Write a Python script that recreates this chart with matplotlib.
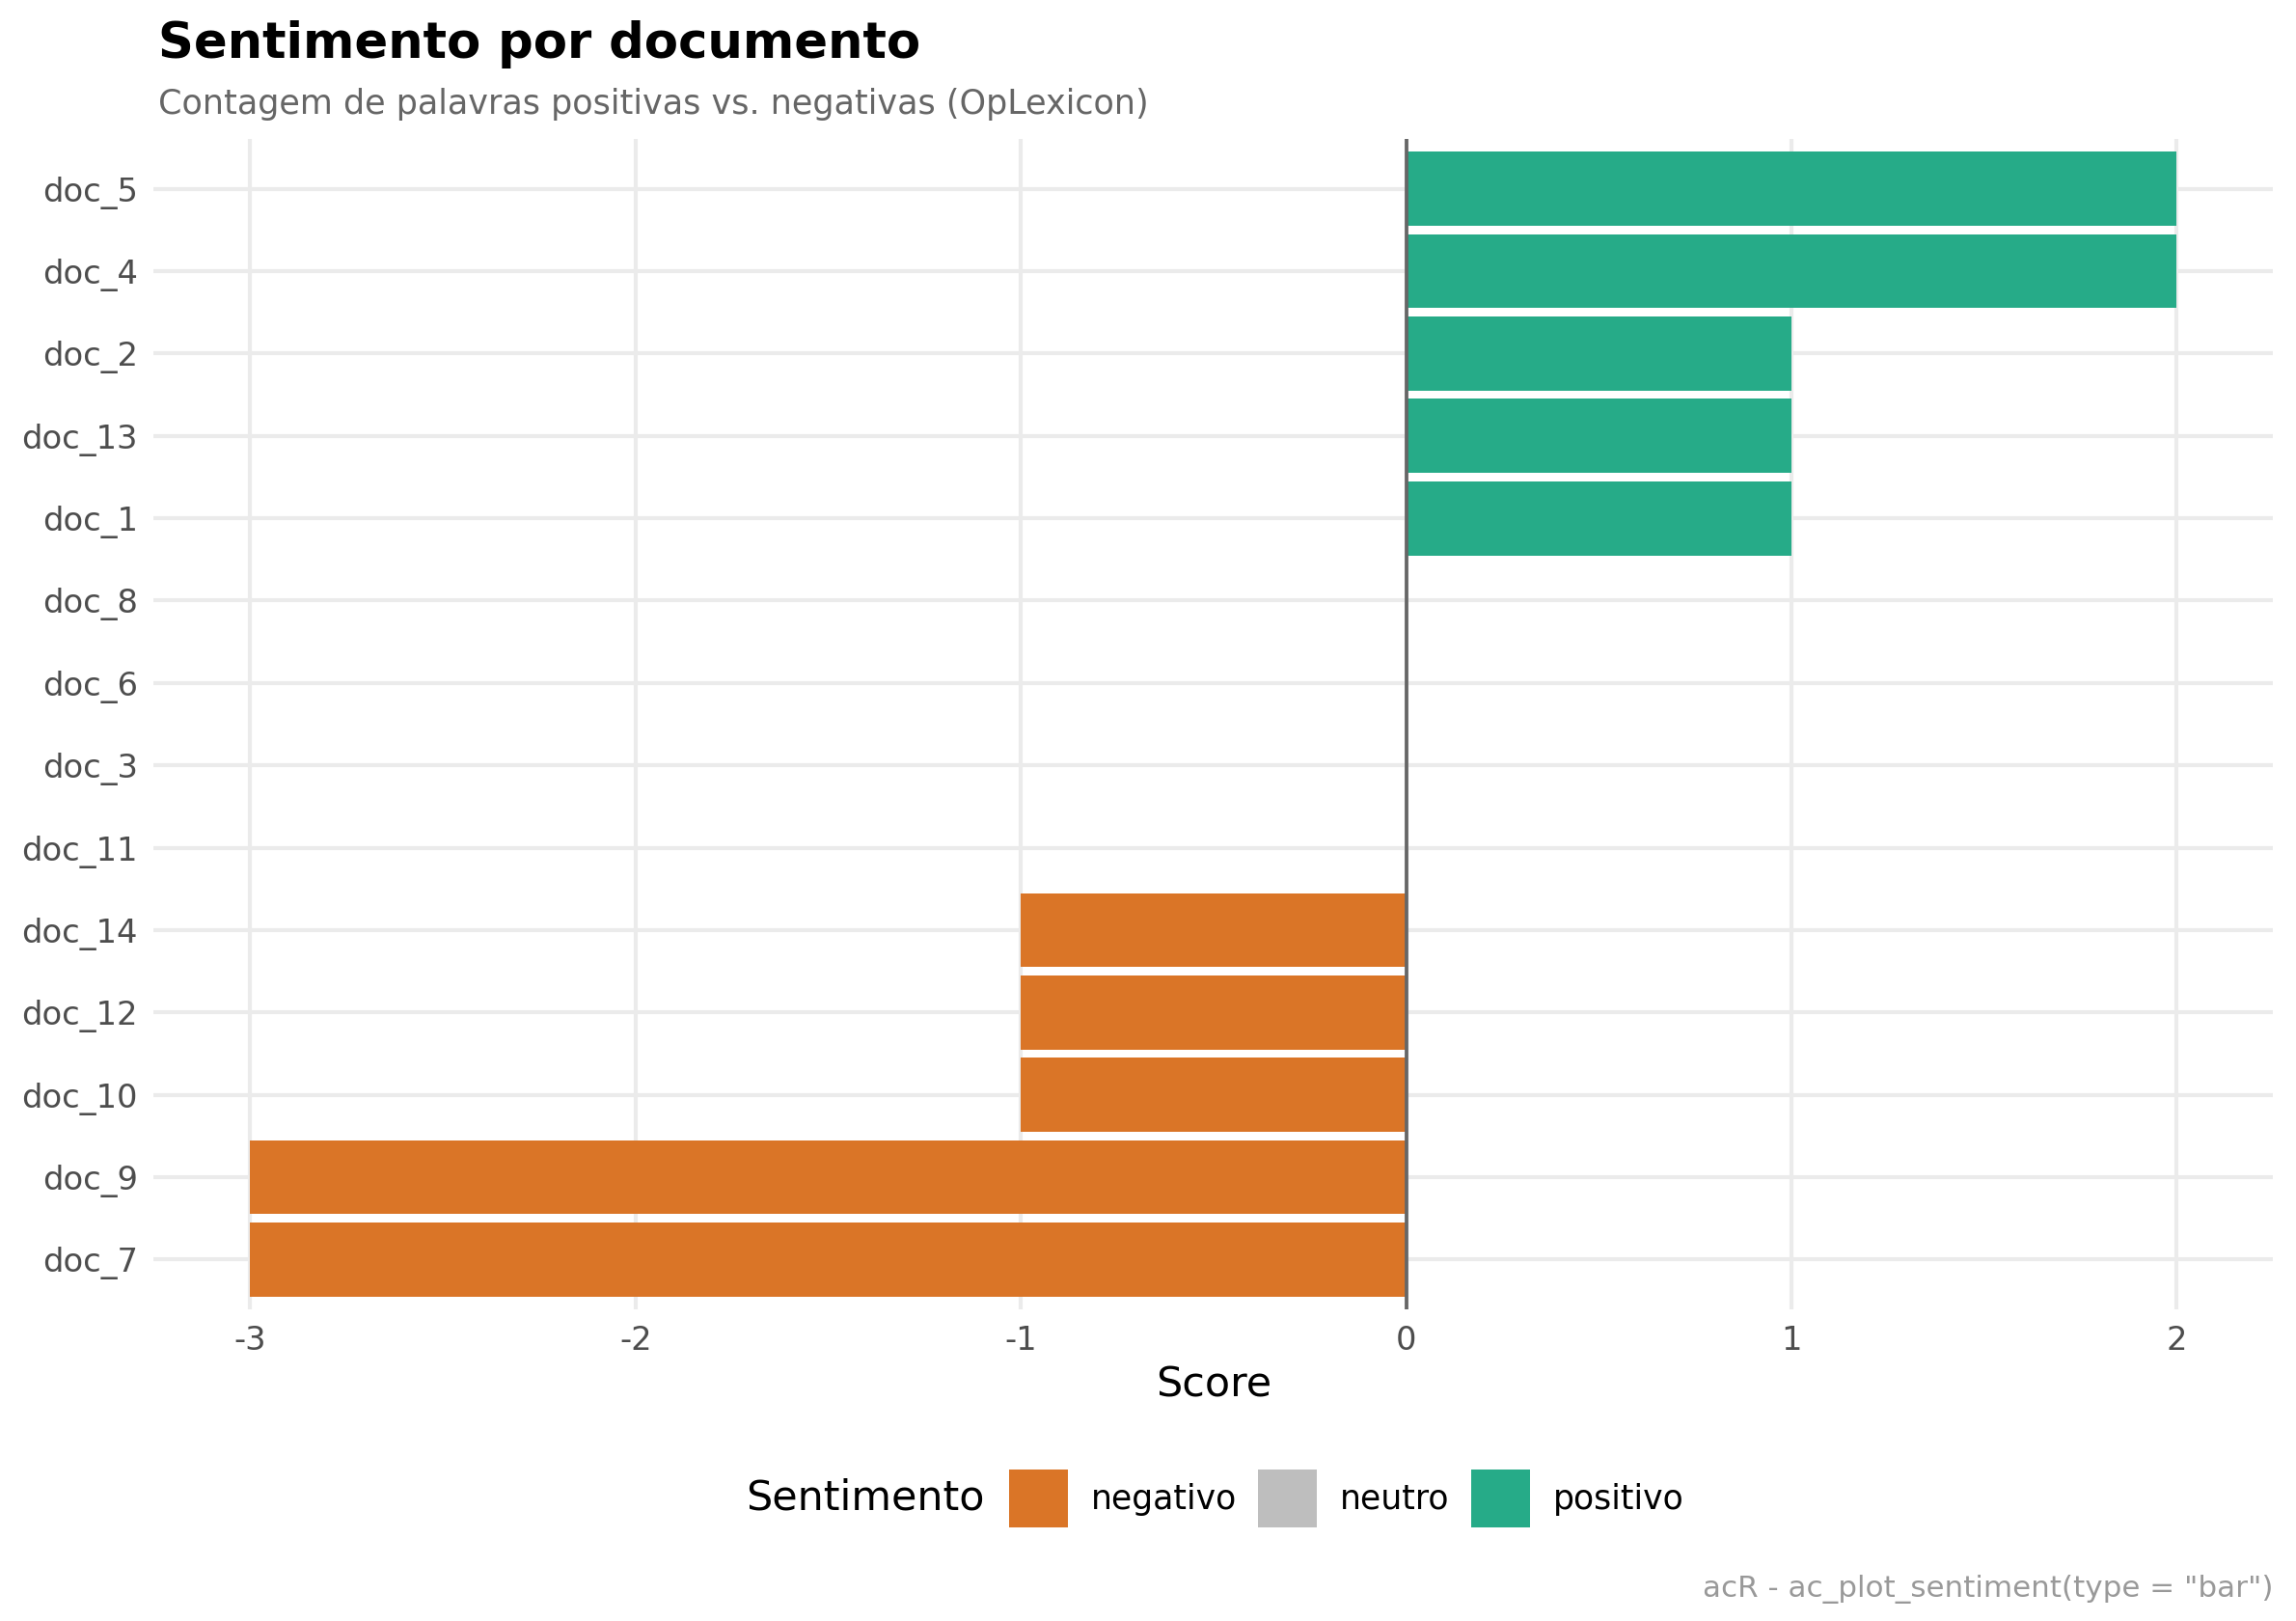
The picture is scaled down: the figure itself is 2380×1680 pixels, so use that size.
import matplotlib
matplotlib.use("Agg")
import matplotlib.pyplot as plt
from matplotlib.patches import Patch

plt.rcParams['font.family'] = ['DejaVu Sans']

# ---- data (bottom to top) ----
docs = ["doc_7", "doc_9", "doc_10", "doc_12", "doc_14", "doc_11", "doc_3",
        "doc_6", "doc_8", "doc_1", "doc_13", "doc_2", "doc_4", "doc_5"]
scores = [-3, -3, -1, -1, -1, 0, 0, 0, 0, 1, 1, 1, 2, 2]
sentiment = ["negativo"] * 5 + ["neutro"] * 4 + ["positivo"] * 5
categories = ["negativo", "neutro", "positivo"]
palette = {"negativo": "#DA7527", "neutro": "#BEBEBE", "positivo": "#26AB88"}
x_ticks = [-3, -2, -1, 0, 1, 2]

title = "Sentimento por documento"
subtitle = "Contagem de palavras positivas vs. negativas (OpLexicon)"
xlabel = "Score"
legend_title = "Sentimento"
caption = 'acR - ac_plot_sentiment(type = "bar")'

fig = plt.figure(figsize=(2380 / 300, 1680 / 300), dpi=300)
ax = fig.add_axes([0.067, 0.1925, 0.923, 0.7215])

ypos = list(range(1, len(docs) + 1))
ax.barh(ypos, scores, height=0.9, color=[palette[s] for s in sentiment],
        linewidth=0, zorder=2)
ax.axvline(0, color="#666666", linewidth=0.9, zorder=3)

ax.set_xlim(-3.25, 2.25)
ax.set_ylim(0.4, len(docs) + 0.6)
ax.set_yticks(ypos)
ax.set_yticklabels(docs)
ax.set_xticks(x_ticks)
ax.set_xticklabels([str(t) for t in x_ticks])
ax.tick_params(length=0, labelsize=8.1, labelcolor="#4D4D4D", pad=4)
ax.grid(True, color="#EBEBEB", linewidth=1.0, zorder=0)
ax.set_axisbelow(True)
for s in ax.spines.values():
    s.set_visible(False)
ax.set_xlabel(xlabel, fontsize=10.3, color="black", labelpad=2)

fig.text(0.069, 0.964, title, fontsize=12.3, fontweight="bold", ha="left",
         va="baseline")
fig.text(0.069, 0.930, subtitle, fontsize=8.4, color="#666666", ha="left",
         va="baseline")

handles = [Patch(facecolor=palette[c], edgecolor="none", label=c) for c in categories]
fig.text(0.4287, 0.0756, legend_title, fontsize=10.3, ha="right", va="center")
fig.legend(handles=handles, loc="center left", bbox_to_anchor=(0.4395, 0.0756),
           ncol=3, frameon=False, fontsize=8.3, handlelength=1.76,
           handleheight=2.27, handletextpad=0.68, columnspacing=0.66,
           borderpad=0, borderaxespad=0)

fig.text(0.990, 0.015, caption, fontsize=7.45, color="#999999", ha="right",
         va="baseline")

fig.savefig("out.png", dpi=300, facecolor="white")
